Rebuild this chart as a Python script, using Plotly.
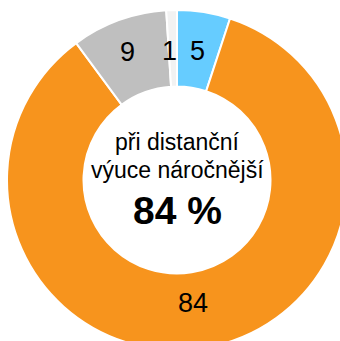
import math
import plotly.graph_objects as go

# Share of answers, clockwise from 12 o'clock
labels = ["A", "B", "C", "D"]
values = [5, 84, 9, 1]
colors = ["#66CCFF", "#F7941D", "#BFBFBF", "#F2F2F2"]
center_lines = ["při distanční", "výuce náročnější"]
headline_value = 84

# Canvas and ring geometry (pixels)
W, H = 354, 360
CX, CY = 177, 180
R = 170
HOLE = 0.55
FONT = "Liberation Sans, Arial, sans-serif"

# Small pixel nudges for the value labels (dx, dy)
label_nudge = [(0, 1), (-5, -7), (-4, -4), (-3, 3)]

fig = go.Figure(go.Pie(
    labels=labels,
    values=values,
    textinfo="none",
    marker=dict(colors=colors, line=dict(color="#FFFFFF", width=2)),
    hole=HOLE,
    sort=False,
    direction="clockwise",
    rotation=0,
    showlegend=False,
    hoverinfo="label+value",
    domain=dict(x=[(CX - R) / W, (CX + R) / W], y=[1 - (CY + R) / H, 1 - (CY - R) / H]),
))


def paper(px, py):
    return px / W, 1 - py / H


annotations = []
total = sum(values)
cum = 0
r_mid = R * (1 + HOLE) / 2
for v, (dx, dy) in zip(values, label_nudge):
    ang = math.radians((cum + v / 2) / total * 360)
    x, y = paper(CX + r_mid * math.sin(ang) + dx, CY - r_mid * math.cos(ang) + dy)
    annotations.append(dict(
        x=x, y=y, xref="paper", yref="paper", xanchor="center", yanchor="middle",
        text=str(v), showarrow=False,
        font=dict(family=FONT, size=27, color="#000000"),
    ))
    cum += v

for txt, py, size in [
    (center_lines[0], 142, 23),
    (center_lines[1], 170, 23),
    (f"<b>{headline_value} %</b>", 210, 39),
]:
    x, y = paper(CX, py)
    annotations.append(dict(
        x=x, y=y, xref="paper", yref="paper", xanchor="center", yanchor="middle",
        text=txt, showarrow=False, font=dict(family=FONT, size=size, color="#000000"),
    ))

fig.update_layout(
    width=W, height=H,
    margin=dict(l=0, r=0, t=0, b=0),
    paper_bgcolor="#FFFFFF",
    plot_bgcolor="#FFFFFF",
    annotations=annotations,
)

fig.write_html(
    "out.html",
    config={"displayModeBar": False},
    post_script="document.documentElement.style.overflow='hidden';document.body.style.overflow='hidden';document.body.style.margin='0';",
)
